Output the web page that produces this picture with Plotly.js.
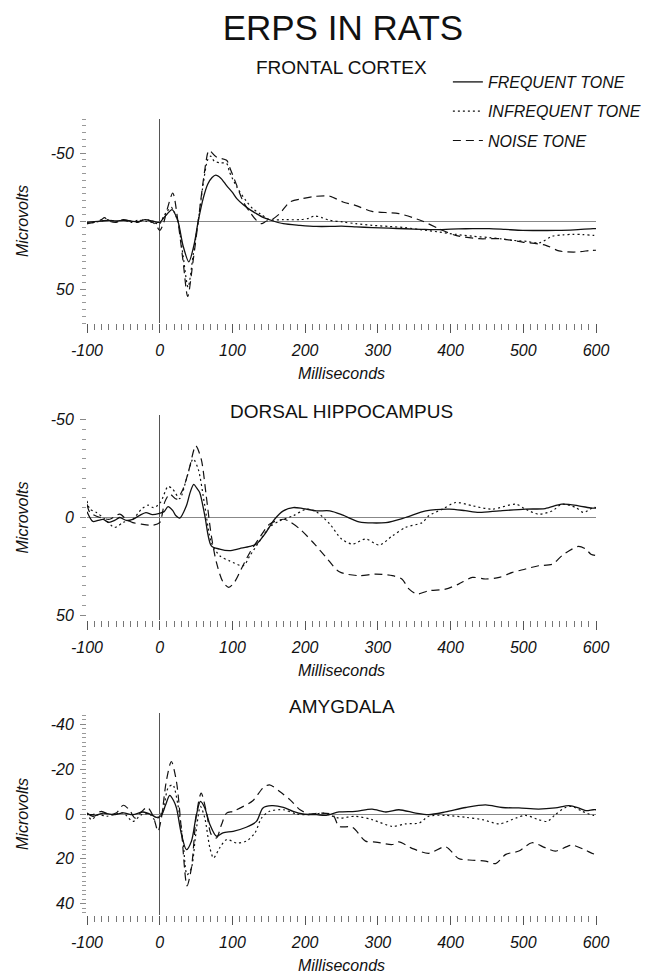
<!DOCTYPE html>
<html>
<head>
<meta charset="utf-8">
<script src="https://cdn.plot.ly/plotly-3.0.1.min.js"></script>
<style>html,body{margin:0;padding:0;background:#fff;}#chart{width:647px;height:977px;}</style>
</head>
<body>
<div id="chart"></div>
<script>
// ---------------- DATA ----------------
// Frontal cortex
var fcFreqT = [-100,-90,-80,-70,-60,-50,-40,-30,-20,-10,0,5,10,17,25,32,40,47,53,60,66,72,77,84,92,100,106,115,125,133,143,156,170,193,215,235,250,270,292,315,338,360,384,400,421,440,453,475,499,520,545,570,596,600];
var fcFreqV = [1,0.5,0,-0.5,0,-0.5,0,0.5,-1,0,1,-2,-5,-8.4,0,18,30,18,0,-17,-27,-32,-33.7,-31.5,-26,-21,-16.5,-12,-8,-5.4,-2.5,0,2,3.2,4,4,3.8,4.3,4.9,5.3,5.7,6.1,6.4,6,5.7,5.6,5.6,6.2,6.9,7,6.9,6.5,5.6,5.6];
var fcInfT = [-100,-90,-80,-70,-60,-50,-40,-30,-20,-10,0,5,10,16,22,25,32,39,46,53,60,66,70,75,83,92,96,106,119,128,138,151,170,193,205,213,223,234,252,270,292,315,338,360,384,407,430,453,470,485,505,522,540,555,568,582,596,600];
var fcInfV = [2,1,0,-1,0.5,-1,1,-0.5,0,1,2,-3,-7,-10,-4,0,25,48.6,25,0,-28,-45,-47.7,-44,-42.8,-42.3,-36,-25,-14.7,-9,-5.4,-1,-1,-1,-2,-3.7,-2.5,-0.5,0.7,2,3.2,4,4.9,6.5,8.1,9.8,11.2,12.2,13.2,14.2,15,16.1,11.2,10.2,9.8,10,10.6,10.6];
var fcNoiseT = [-100,-90,-80,-76,-70,-60,-50,-40,-30,-20,-10,-5,0,5,10,18,25,32,38.5,46,53,60,66,68,78,92,96,105,115,124,133,140,147,151,165,179,197,215,234,252,269,292,329,361,384,407,439,467,499,531,549,572,593,600];
var fcNoiseV = [2,1,-1,-2.5,0,1,-1,0,1,-1.5,1,3,7,2,-8,-20.6,0,29,55.5,29,0,-30,-50,-52,-47,-44.7,-39.8,-27.5,-14,-6.6,-0.5,2,0,0,-5.4,-14,-16.5,-18.2,-18.2,-14,-11.5,-7.1,-5.4,0,5.7,10.6,13,13,15.5,17.9,22,22.8,21.6,21.5];

// Dorsal hippocampus
var dhFreqT = [-100,-92,-85,-78,-70,-62,-55,-46,-37,-28,-19,-10,0,6,11.5,18,22,27.5,36.7,42,46.8,51,55,62,71,82.5,96,110,124,133,144.5,158,170,183.5,197,215.6,234,252,274,311,338,366,398,420,439,467,503,530,553,576,594,600];
var dhFreqV = [-3,2,1.5,1,2.5,1.5,0,1.5,1,-1,-2.5,-1.5,-2.2,-3,-5.6,-3.5,-1,0.3,-6,-13,-17,-15,-12.8,-1,14.5,16.2,17,15.9,14.8,13.6,8.5,0.9,-3.4,-5.1,-4.6,-3.4,-3.4,-1.2,2.2,2.6,0,-3.4,-4.3,-3.5,-2.6,-3.4,-4.3,-4.6,-6.8,-6,-4.8,-4.8];
var dhInfT = [-100,-96,-87,-75,-62,-50,-37,-25,-16,-8,1,11.5,18,27.5,36.7,46,53,62,71,82.5,96,115,124,137.6,151,165,183.5,202,215,234,250,265,283,302,320,338,361,370,389,407,430,457,490,503,521,540,553,572,583,596,600];
var dhInfV = [-8.5,-4.3,-2.6,1,5.1,2.5,0.9,-4.3,-6.3,-5,-7.7,-15.9,-14.5,-9.7,-19.6,-30,-24.7,-6,12.8,19.6,22.2,24.7,19.6,12,5,1.7,-0.9,-4.3,-3,3.4,11,13.6,11,14.1,9.4,5.1,2.6,-0.9,-4.3,-7.7,-6,-4.3,-6.8,-4.3,-1.7,-3.4,-6.8,-5.1,-2.6,-5.1,-5.1];
var dhNoiseT = [-100,-96,-82,-69,-55,-46,-37,-25,-9,0,7,14,23,32,41,49.5,57,64,71,78,87,95,103,112,124,137.6,151,170,179,193,211,229,247,274,297,320,333,343,354,370,393,411,430,448,467,485,503,521,540,553,567,576,586,593,600];
var dhNoiseV = [-6.8,-2.6,0,0.9,-1.7,0.9,2.6,3.4,3.9,2.6,-8,-12,-9.4,-14.5,-25.6,-36.7,-30,-11,9.4,23,33,35.8,33,26.5,17.9,10.2,3.4,0.9,2.2,6,12.8,20.5,27.8,29.8,29,29.8,31.5,36.7,39.2,37.5,36.7,34.1,30.7,31.5,30.7,28.1,26.4,24.7,23.9,19.6,16.2,14.8,16.2,18.8,19.5];

// Amygdala
var amFreqT = [-100,-92,-78,-64,-50,-37,-23,-11.5,-4.6,2.3,8,13.8,19,23,30,36.7,43.6,50.5,56,62,69,78,87,101,119,133,142,154,170,183.5,197,215.6,229,246.6,269,292,311,329,352,370,393,421,448,471,494,521,544,563,576,586,596,600];
var amFreqV = [-0.4,1,-0.4,0.3,-0.5,0.3,-0.9,0.3,1.5,0.6,-4,-8.3,-6,-2.7,9.2,15.9,12.1,0.3,-5.6,-2.7,4.7,9.9,8.4,7.7,5.9,3.3,-2.7,-3.7,-3,-1.2,0,0.3,0.6,-0.9,-1.2,-2.2,-0.9,-1.9,-0.4,0.3,-0.9,-2.9,-4.1,-2.9,-2.7,-2.2,-2.7,-3.7,-2.7,-1.5,-1.9,-1.9];
var amInfT = [-100,-94,-85,-73,-60,-50,-37,-25,-14,-7,0,6,11.5,18,25,32,37.6,43.6,49.5,56,62,69,74,82.5,92,105.5,119,131,140,151,170,188,206,225,246.6,269,292,320,338,357,370,393,421,444,467,490,503,521,533,544,558,567,581,596,600];
var amInfV = [-0.4,2.5,0.3,1,0,-0.5,3.3,0.3,0,2.5,1,-4,-11.6,-13,-4.1,12.1,27,24,9.2,-3.4,1.8,15.1,19.6,15.1,11.4,12.9,12.1,8.4,1.8,-1.2,-1.9,0,0.3,-0.4,1.8,1,2.5,5.5,4.4,4,1,0.6,1.5,2.5,4.4,1.8,0.6,2.5,3.3,0.3,-2.9,-3.4,-1.2,0.6,0.6];
var amNoiseT = [-100,-92,-80,-69,-60,-50,-41,-34,-25,-17,-9,-2.3,2.3,9,16,23,30,37.6,43.6,50.5,57,64,71,78,85,92,101,115,128,142,151,165,179,193,206,220,238,246.6,265,283,297,320,329,347,370,393,411,430,448,462,476,494,512,530,544,567,586,596,600];
var amNoiseV = [0,0.3,-1.2,0.3,-0.4,-3.9,-1.5,1.8,-1,-3,1,7.7,1.8,-14.5,-23.4,-14.5,7.7,32,24,0.3,-9.3,-1.2,9.2,10.7,4.7,-0.4,-1.2,-3.4,-5.9,-11.6,-13,-10,-6.4,-1.9,0,-0.4,0.3,5.5,5.9,12.1,12.5,13.6,12.4,15.3,17.5,14.6,19.8,20.6,21,22.1,18,16.5,12.8,15,16.5,13.9,16.2,17.7,17.7];

var seriesNames = ['FREQUENT TONE','INFREQUENT TONE','NOISE TONE'];
var panelTitles = ['FRONTAL CORTEX','DORSAL HIPPOCAMPUS','AMYGDALA'];
var mainTitle = 'ERPS IN RATS';
var xTitle = 'Milliseconds';
var yTitle = 'Microvolts';

// tick labels (hyphen-minus as printed in the reference)
var xTickVals = [-100,0,100,200,300,400,500,600];
var xTickText = ['-100','0','100','200','300','400','500','600'];
var y1TickVals = [-50,0,50];
var y1TickText = ['-50','0','50'];
var y2TickVals = [-50,0,50];
var y2TickText = ['-50','0','50'];
var y3TickVals = [-40,-20,0,20,40];
var y3TickText = ['-40','-20','0','20','40'];

// ---------------- STYLE ----------------
var FONT = 'Liberation Sans, Arial, Helvetica, sans-serif';
var INK = '#111';
var lineStyles = [
  {color: INK, width: 1.3, dash: 'solid'},
  {color: INK, width: 1.2, dash: '2px,3px'},
  {color: INK, width: 1.2, dash: '8px,5px'}
];

var panels = [
  [[fcFreqT, fcFreqV], [fcInfT, fcInfV], [fcNoiseT, fcNoiseV]],
  [[dhFreqT, dhFreqV], [dhInfT, dhInfV], [dhNoiseT, dhNoiseV]],
  [[amFreqT, amFreqV], [amInfT, amInfV], [amNoiseT, amNoiseV]]
];
var yTicks = [[y1TickVals, y1TickText], [y2TickVals, y2TickText], [y3TickVals, y3TickText]];

var traces = [];
panels.forEach(function (p, pi) {
  p.forEach(function (s, si) {
    traces.push({
      x: s[0], y: s[1], type: 'scatter', mode: 'lines',
      name: seriesNames[si],
      legendgroup: 'g' + si,
      showlegend: pi === 0,
      line: Object.assign({shape: 'spline', smoothing: 0.8}, lineStyles[si]),
      xaxis: 'x' + (pi === 0 ? '' : pi + 1),
      yaxis: 'y' + (pi === 0 ? '' : pi + 1),
      hoverinfo: 'skip'
    });
  });
});

var H = 977;
function dom(top, bottom) { return [1 - bottom / H, 1 - top / H]; }
var yDomains = [dom(119, 323), dom(415, 620), dom(713, 915)];
var yRanges = [[75, -75], [52.5, -52.5], [45, -45]];
var yMinor = [5, 5, 2];
var titleY = [68, 411.7, 706.7];

var tickFont = {family: FONT, size: 16, style: 'italic', color: INK};
var titleFont = {family: FONT, size: 16, style: 'italic', color: INK};

var layout = {
  width: 647, height: 977,
  margin: {l: 87, r: 51, t: 0, b: 0},
  paper_bgcolor: '#fff', plot_bgcolor: '#fff',
  showlegend: true,
  title: {text: mainTitle, font: {family: FONT, size: 35, color: INK},
          xref: 'container', x: 0.53, xanchor: 'center',
          yref: 'container', y: 1 - 28 / H, yanchor: 'middle'},
  legend: {x: 0.709, xanchor: 'left', y: 1 - 65 / H, yanchor: 'top',
           font: {family: FONT, size: 16, style: 'italic', color: INK},
           bgcolor: 'rgba(0,0,0,0)', borderwidth: 0,
           tracegroupgap: 5.5, itemwidth: 30},
  annotations: [],
  hovermode: false
};

for (var i = 0; i < 3; i++) {
  var sfx = i === 0 ? '' : String(i + 1);
  layout['xaxis' + sfx] = {
    domain: [0, 1], range: [-100, 600], anchor: 'y' + sfx,
    showgrid: false, showline: false,
    zeroline: true, zerolinecolor: '#555', zerolinewidth: 1,
    tickmode: 'array', tickvals: xTickVals, ticktext: xTickText,
    ticks: 'outside', ticklen: 9, tickwidth: 1, tickcolor: '#555',
    minor: {dtick: 10, tick0: 0, ticks: 'outside', ticklen: 6, tickwidth: 1, tickcolor: '#777', showgrid: false},
    tickfont: tickFont, ticklabelstandoff: 4,
    title: {text: xTitle, font: titleFont, standoff: 9}
  };
  layout['yaxis' + sfx] = {
    domain: yDomains[i], range: yRanges[i], anchor: 'x' + sfx,
    showgrid: false, showline: false,
    zeroline: true, zerolinecolor: '#888', zerolinewidth: 1,
    tickmode: 'array', tickvals: yTicks[i][0], ticktext: yTicks[i][1],
    ticks: 'outside', ticklen: 6, tickwidth: 1, tickcolor: '#888',
    minor: {dtick: yMinor[i], tick0: 0, ticks: 'outside', ticklen: 4, tickwidth: 1, tickcolor: '#999', showgrid: false},
    tickfont: tickFont, ticklabelstandoff: 3,
    title: {text: yTitle, font: titleFont, standoff: 18}
  };
  layout.annotations.push({
    text: panelTitles[i], xref: 'paper', yref: 'paper',
    x: 0.5, xanchor: 'center', y: 1 - titleY[i] / H, yanchor: 'middle',
    showarrow: false, font: {family: FONT, size: 19, color: INK}
  });
}

Plotly.newPlot('chart', traces, layout, {staticPlot: true, displayModeBar: false});
</script>
</body>
</html>
